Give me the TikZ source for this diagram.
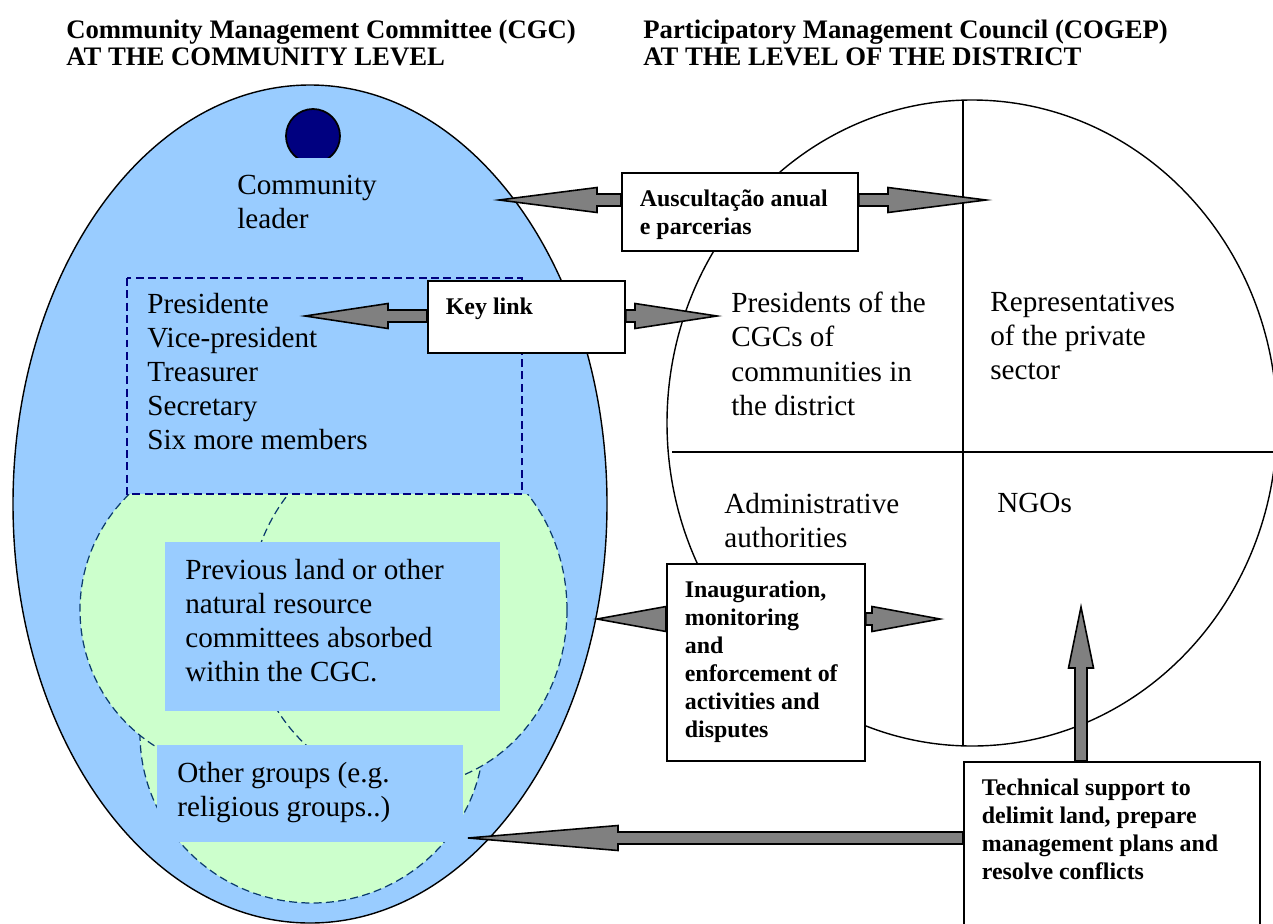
\documentclass[tikz,border=0pt]{standalone}
\usepackage{fontspec}
\setmainfont{Liberation Serif}
\usetikzlibrary{calc}

\definecolor{cgcblue}{HTML}{99CCFF}
\definecolor{cgcgreen}{HTML}{CCFFCC}
\definecolor{leadernavy}{HTML}{000080}
\definecolor{arrowgray}{HTML}{808080}
\definecolor{venndash}{HTML}{0B3B6E}

\newcommand\bodyfont{\fontsize{16.6}{19.4}\selectfont}
\newcommand\boxfont{\fontsize{13.6}{15.9}\selectfont\bfseries}
\newcommand\titlefont{\fontsize{15.2}{15.4}\selectfont\bfseries}
\newcommand\boxtext[3]{\parbox[c][#2][t]{#1}{\raggedright #3}}

% block arrow: [head length]{from}{tip}
\newcommand\blockarrow[3][1.9cm]{%
  \draw[blockarr]
    ($(#2)!0.12cm!90:(#3)$)
    -- ($(#3)!#1!(#2)!0.12cm!90:(#3)$)
    -- ($(#3)!#1!(#2)!0.25cm!90:(#3)$)
    -- (#3)
    -- ($(#3)!#1!(#2)!0.25cm!-90:(#3)$)
    -- ($(#3)!#1!(#2)!0.12cm!-90:(#3)$)
    -- ($(#2)!0.12cm!-90:(#3)$) -- cycle;}

\tikzset{
  txt/.style={anchor=north west, inner sep=0pt, align=left, font=\bodyfont},
  titletxt/.style={anchor=north west, inner sep=0pt, align=left, font=\titlefont},
  box/.style={draw, fill=white, line width=1pt, anchor=north west,
    inner xsep=0.36cm, inner ysep=0.34cm, font=\boxfont},
  bluebox/.style={fill=cgcblue, anchor=north west,
    inner xsep=0.4cm, inner ysep=0.34cm, font=\bodyfont},
  venn/.style={fill=cgcgreen, draw=venndash, line width=0.7pt,
    dash pattern=on 4.5pt off 2.5pt},
  blockarr/.style={fill=arrowgray, draw=black, line width=0.9pt, line join=miter}
}

\begin{document}
\begin{tikzpicture}[x=0.02cm, y=-0.02cm]
  \useasboundingbox (0,0) rectangle (1273,923);

  % Titles
  \node[titletxt] (cgctitle) at (66,20) {Community Management Committee (CGC)\\AT THE COMMUNITY LEVEL};
  \node[titletxt] (cogeptitle) at (643,20) {Participatory Management Council (COGEP)\\AT THE LEVEL OF THE DISTRICT};

  % Community side
  \draw[line width=0.8pt, fill=cgcblue] (310,504) ellipse [x radius=297, y radius=419];

  % Overlapping groups
  \begin{scope}
    \clip (0,494) rectangle (640,923);
    \draw[venn] (312,734) ellipse [x radius=172, y radius=169];
    \draw[venn] (241,610) circle [radius=161];
    \draw[venn] (408,610) ellipse [x radius=159, y radius=176];
  \end{scope}

  % Committee members
  \draw[fill=cgcblue, draw=leadernavy, line width=0.8pt, dash pattern=on 4.5pt off 2.5pt]
    (127,278) rectangle (522,494);

  % Leader
  \begin{scope}
    \clip (270,100) rectangle (360,157);
    \draw[line width=1pt, fill=leadernavy] (313,136) circle [radius=27];
  \end{scope}

  \node[txt] (leader) at (237,175) {Community\\leader};
  \node[txt] (members) at (147,293) {Presidente\\Vice-president\\Treasurer\\Secretary\\Six more members};

  \node[bluebox] (previous) at (165,542)
    {\boxtext{5.9cm}{2.7cm}{Previous land or other\\natural resource\\committees absorbed\\within the CGC.}};
  \node[bluebox] (others) at (157,745)
    {\boxtext{5.32cm}{1.26cm}{Other groups (e.g.\\religious groups..)}};

  % District side
  \draw[line width=0.8pt] (972,423) ellipse [x radius=305, y radius=323];
  \begin{scope}
    \clip (972,423) ellipse [x radius=305, y radius=323];
    \draw[line width=0.8pt] (963,0) -- (963,923);
    \draw[line width=0.8pt] (672,452) -- (1300,452);
  \end{scope}

  \node[txt] (pres) at (731,292) {Presidents of the\\CGCs of\\communities in\\the district};
  \node[txt] (priv) at (990,292) {Representatives\\of the private\\sector};
  \node[txt] (admin) at (724,493) {Administrative\\authorities};
  \node[txt] (ngos) at (997,493) {NGOs};

  % Links
  \node[box] (ausc) at (621,172) {\boxtext{4.0cm}{0.88cm}{Auscultação anual\\e parcerias}};
  \node[box] (keylink) at (427,280) {\boxtext{3.22cm}{0.76cm}{Key link}};
  \node[box] (inaug) at (666,563)
    {\boxtext{3.24cm}{3.26cm}{Inauguration,\\monitoring\\and\\enforcement of\\activities and\\disputes}};
  \node[box] (techsup) at (963,761)
    {\boxtext{5.2cm}{2.8cm}{Technical support to\\delimit land, prepare\\management plans and\\resolve conflicts}};

  \coordinate (leadertip) at (499,200);
  \coordinate (counciltip) at (986,200);
  \coordinate (presidtip) at (305,316);
  \coordinate (prestip) at (717,316);
  \coordinate (cgcside) at (597,619);
  \coordinate (adminside) at (940,619);
  \coordinate (ngotip) at (1081,607);
  \coordinate (groupstip) at (468,838);

  \blockarrow[1.96cm]{ausc.west |- leadertip}{leadertip}
  \blockarrow[1.96cm]{ausc.east |- counciltip}{counciltip}
  \blockarrow[1.66cm]{keylink.west |- presidtip}{presidtip}
  \blockarrow[1.64cm]{keylink.east |- prestip}{prestip}
  \blockarrow[1.38cm]{inaug.west |- cgcside}{cgcside}
  \blockarrow[1.36cm]{inaug.east |- adminside}{adminside}
  \blockarrow[1.22cm]{ngotip |- techsup.north}{ngotip}
  \blockarrow[3.0cm]{techsup.west |- groupstip}{groupstip}

\end{tikzpicture}
\end{document}
